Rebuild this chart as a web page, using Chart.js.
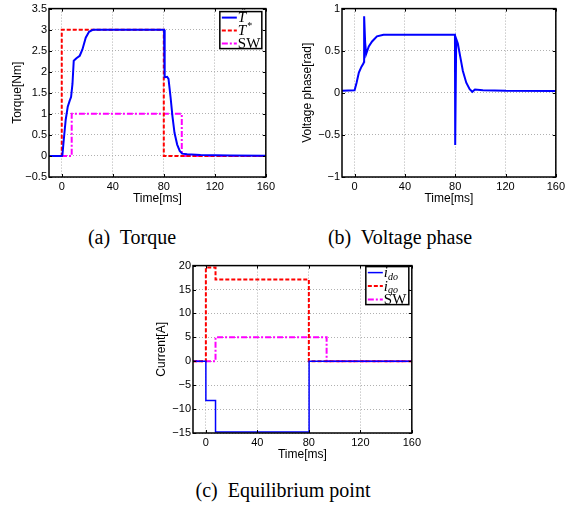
<!DOCTYPE html>
<html>
<head>
<meta charset="utf-8">
<script src="https://cdn.jsdelivr.net/npm/chart.js@4.4.1/dist/chart.umd.min.js"></script>
<style>
  html, body { margin: 0; padding: 0; background: #fff; width: 568px; height: 506px; overflow: hidden; }
  canvas { position: absolute; }
  .cap { position: absolute; width: 300px; text-align: center; white-space: pre;
         font-family: "Liberation Serif", "Times New Roman", serif; font-size: 20px; line-height: 24px; color: #000; }
</style>
</head>
<body>
<canvas id="torqueChart" width="278" height="206" style="left:0;top:0"></canvas>
<canvas id="phaseChart" width="278" height="206" style="left:290px;top:0"></canvas>
<canvas id="currentChart" width="284" height="205" style="left:140px;top:257px"></canvas>
<div class="cap" style="left:-18px;top:225px">(a)  Torque</div>
<div class="cap" style="left:250px;top:225px">(b)  Voltage phase</div>
<div class="cap" style="left:133px;top:478px">(c)  Equilibrium point</div>
<script>
// shared time axis
const xTicks = [0, 40, 80, 120, 160];

// (a) torque
const torqueYTicks = [-0.5, 0, 0.5, 1, 1.5, 2, 2.5, 3, 3.5];
const torqueLabels = ['T\u0302', 'T^*', 'SW'];
const torqueEstTime = [-10, 0, 0.5, 1.6, 3.1, 4.7, 6.3, 7.3, 8.4, 9.4, 11.5, 14.1, 16.2, 18.8, 21.4, 24.6, 80.2, 80.7, 82.6, 83.7, 85.3, 86.8, 88.4, 90.5, 92.5, 94.4, 98.3, 108.8, 132, 160];
const torqueEst = [0, 0, 0.02, 0.39, 0.86, 1.17, 1.32, 1.4, 1.71, 2.26, 2.32, 2.38, 2.53, 2.81, 2.95, 3.0, 3.0, 1.87, 1.88, 1.83, 1.4, 0.94, 0.55, 0.27, 0.12, 0.055, 0.04, 0.025, 0.01, 0.005];
const torqueRefTime = [-10, 0, 0, 80, 80, 160];
const torqueRef = [0, 0, 3, 3, 0, 0];
const torqueSwTime = [-10, 7.8, 7.8, 94.1, 94.1, 160];
const torqueSw = [0, 0, 1, 1, 0, 0];

// (b) voltage phase
const phaseYTicks = [-1, -0.5, 0, 0.5, 1];
const phaseTime = [-10, 0, 1.6, 3.4, 5.5, 7.1, 7.5, 7.6, 8.4, 9.2, 11.3, 13.9, 17.8, 23, 79.8, 80, 80.8, 82.1, 84, 86.1, 88.8, 91.5, 93.6, 95.7, 102, 120.4, 160];
const phase = [0.023, 0.03, 0.12, 0.24, 0.31, 0.35, 0.37, 0.91, 0.6, 0.46, 0.55, 0.61, 0.67, 0.69, 0.69, -0.62, 0.64, 0.585, 0.43, 0.26, 0.12, 0.043, 0.012, 0.04, 0.031, 0.023, 0.02];

// (c) equilibrium point
const currentYTicks = [-15, -10, -5, 0, 5, 10, 15, 20];
const currentLabels = ['i_do', 'i_qo', 'SW'];
const idTime = [-10, 0, 0, 7.5, 7.5, 80.2, 80.2, 160];
const idVal = [0, 0, -8.2, -8.2, -14.8, -14.8, 0, 0];
const iqTime = [-10, 0, 0, 7.5, 7.5, 80, 80, 160];
const iqVal = [0, 0, 19.6, 19.6, 17.1, 17.1, 0, 0];
const swCurTime = [-10, 7.5, 7.5, 93.8, 93.8, 160];
const swCurVal = [0, 0, 5, 5, 0, 0];

const SANS = '"Liberation Sans", Arial, sans-serif';
const SERIF = '"Liberation Serif", "Times New Roman", serif';

function pts(xs, ys) {
    return xs.map((x, i) => ({ x: x, y: ys[i] }));
}

function line(label, xs, ys, color, width, dash) {
    return {
        label: label,
        data: pts(xs, ys),
        borderColor: color,
        borderWidth: width,
        borderDash: dash,
        pointRadius: 0,
        tension: 0,
        fill: false
    };
}

// box + inward ticks, matlab style
const matlabFrame = {
    id: 'matlabFrame',
    afterDatasetsDraw(chart) {
        const { ctx, chartArea: a, scales: { x, y } } = chart;
        ctx.save();
        ctx.strokeStyle = '#000';
        ctx.lineWidth = 1;
        ctx.beginPath();
        x.ticks.forEach(t => {
            const px = Math.round(x.getPixelForValue(t.value)) + 0.5;
            ctx.moveTo(px, a.bottom); ctx.lineTo(px, a.bottom - 3);
            ctx.moveTo(px, a.top); ctx.lineTo(px, a.top + 3);
        });
        y.ticks.forEach(t => {
            const py = Math.round(y.getPixelForValue(t.value)) + 0.5;
            ctx.moveTo(a.left, py); ctx.lineTo(a.left + 3, py);
            ctx.moveTo(a.right, py); ctx.lineTo(a.right - 3, py);
        });
        ctx.stroke();
        ctx.lineWidth = 1.5;
        ctx.strokeRect(a.left, a.top, a.right - a.left, a.bottom - a.top);
        ctx.restore();
    }
};

function drawMathLabel(ctx, label, x, y) {
    let main = label, sub = '', sup = '', hat = false;
    if (label.includes('_')) [main, sub] = label.split('_');
    else if (label.includes('^')) [main, sup] = label.split('^');
    if (main.endsWith('\u0302')) { hat = true; main = main.slice(0, -1); }
    const italic = main !== 'SW';
    const base = y + 4.5;
    ctx.fillStyle = '#000';
    ctx.textAlign = 'left';
    ctx.textBaseline = 'alphabetic';
    ctx.font = (italic ? 'italic ' : '') + '15px ' + SERIF;
    ctx.fillText(main, x, base);
    const w = ctx.measureText(main).width;
    if (hat) {
        ctx.font = '11px ' + SERIF;
        ctx.textAlign = 'center';
        ctx.fillText('\u02C6', x + w / 2 + 1.5, base - 6);
        ctx.textAlign = 'left';
    }
    if (sub) {
        ctx.font = 'italic 10px ' + SERIF;
        ctx.fillText(sub, x + w, base + 2.5);
    }
    if (sup) {
        ctx.font = '10px ' + SERIF;
        ctx.fillText(sup, x + w + 1, base - 6);
    }
}

const matlabLegend = {
    id: 'matlabLegend',
    afterDraw(chart, args, opts) {
        if (!opts || !opts.width) return;
        const { ctx, chartArea: a } = chart;
        const x0 = a.right - opts.right - opts.width;
        const y0 = a.top + opts.top;
        ctx.save();
        ctx.fillStyle = '#fff';
        ctx.fillRect(x0, y0, opts.width, opts.height);
        ctx.strokeStyle = '#000';
        ctx.lineWidth = 1.5;
        ctx.strokeRect(x0, y0, opts.width, opts.height);
        chart.data.datasets.forEach((ds, i) => {
            const yy = y0 + 6 + i * opts.row;
            ctx.strokeStyle = ds.borderColor;
            ctx.lineWidth = ds.borderWidth;
            ctx.setLineDash(ds.borderDash || []);
            ctx.beginPath();
            ctx.moveTo(x0 + 2, yy);
            ctx.lineTo(x0 + 17, yy);
            ctx.stroke();
            ctx.setLineDash([]);
            drawMathLabel(ctx, ds.label, x0 + 18, yy);
        });
        ctx.restore();
    }
};

function makeOptions(cfg) {
    return {
        responsive: false,
        animation: false,
        layout: { padding: { left: 0, right: cfg.padRight, top: 6, bottom: 0 } },
        plugins: {
            legend: { display: false },
            tooltip: { enabled: false },
            matlabLegend: cfg.legend || {}
        },
        scales: {
            x: {
                type: 'linear',
                min: -10,
                max: 160,
                afterBuildTicks: s => { s.ticks = xTicks.map(v => ({ value: v })); },
                afterFit: s => { s.height = 29; },
                grid: { color: '#b0b0b0', lineWidth: 1, drawTicks: false },
                border: { display: false, dash: [1, 2] },
                ticks: { color: '#000', font: { family: SANS, size: 11 }, padding: 3, maxRotation: 0, autoSkip: false },
                title: { display: true, text: 'Time[ms]', color: '#000', font: { family: SANS, size: 12 }, padding: { top: 0, bottom: 0 } }
            },
            y: {
                type: 'linear',
                min: cfg.yTicks[0],
                max: cfg.yTicks[cfg.yTicks.length - 1],
                afterBuildTicks: s => { s.ticks = cfg.yTicks.map(v => ({ value: v })); },
                afterFit: s => { s.width = cfg.yWidth; },
                grid: { color: '#b0b0b0', lineWidth: 1, drawTicks: false },
                border: { display: false, dash: [1, 2] },
                ticks: {
                    color: '#000', font: { family: SANS, size: 11 }, padding: 2, autoSkip: false,
                    callback: v => String(v).replace('-', '\u2212')
                },
                title: { display: true, text: cfg.yTitle, color: '#000', font: { family: SANS, size: 12 }, padding: { top: cfg.titlePad, bottom: 0 } }
            }
        }
    };
}

new Chart(document.getElementById('torqueChart'), {
    type: 'line',
    data: {
        datasets: [
            line(torqueLabels[0], torqueEstTime, torqueEst, '#0000ff', 2, []),
            line(torqueLabels[1], torqueRefTime, torqueRef, '#ff0000', 2, [4, 2]),
            line(torqueLabels[2], torqueSwTime, torqueSw, '#ff00ff', 2, [6, 2, 2, 2])
        ]
    },
    options: makeOptions({ yTicks: torqueYTicks, yWidth: 49, yTitle: 'Torque[Nm]', titlePad: 10, padRight: 12,
        legend: { width: 42, height: 37, right: 4, top: 3, row: 13 } }),
    plugins: [matlabFrame, matlabLegend]
});

new Chart(document.getElementById('phaseChart'), {
    type: 'line',
    data: {
        datasets: [
            line('phase', phaseTime, phase, '#0000ff', 2, [])
        ]
    },
    options: makeOptions({ yTicks: phaseYTicks, yWidth: 52, yTitle: 'Voltage phase[rad]', titlePad: 10, padRight: 10 }),
    plugins: [matlabFrame]
});

new Chart(document.getElementById('currentChart'), {
    type: 'line',
    data: {
        datasets: [
            line(currentLabels[0], idTime, idVal, '#0000ff', 1.5, []),
            line(currentLabels[1], iqTime, iqVal, '#ff0000', 2, [4, 2]),
            line(currentLabels[2], swCurTime, swCurVal, '#ff00ff', 2, [6, 2, 2, 2])
        ]
    },
    options: makeOptions({ yTicks: currentYTicks, yWidth: 53, yTitle: 'Current[A]', titlePad: 14, padRight: 12,
        legend: { width: 43, height: 38, right: 3, top: 1, row: 13.5 } }),
    plugins: [matlabFrame, matlabLegend]
});
</script>
</body>
</html>
